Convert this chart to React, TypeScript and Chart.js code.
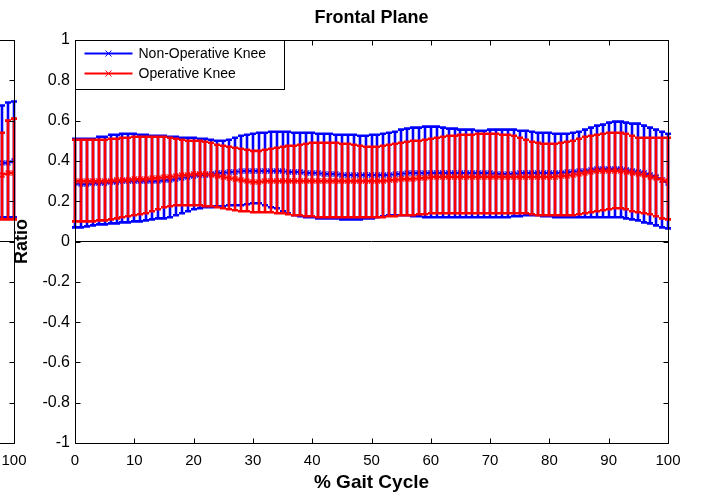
import React, { useEffect, useRef } from 'react';
import { Chart, registerables } from 'chart.js';

Chart.register(...registerables);

// ---------------- data ----------------
const GAIT_PCT: number[] = Array.from({ length: 101 }, (_, i) => i);

const NON_OP_MEAN = [
  0.29, 0.285, 0.285, 0.29, 0.29, 0.29,
  0.295, 0.295, 0.30, 0.30, 0.30,
  0.30, 0.30, 0.30, 0.30, 0.305, 0.305,
  0.31, 0.315, 0.32, 0.325, 0.33, 0.33, 0.335, 0.34,
  0.34, 0.345, 0.345,
  0.35, 0.35, 0.35, 0.35, 0.35, 0.35,
  0.35, 0.35, 0.345, 0.345, 0.345, 0.34, 0.34, 0.34, 0.335, 0.335, 0.335, 0.33, 0.33, 0.33, 0.33, 0.33,
  0.33, 0.33, 0.33, 0.33, 0.335,
  0.335, 0.34, 0.34, 0.34, 0.34, 0.34, 0.34, 0.34, 0.34,
  0.34, 0.34, 0.34, 0.34, 0.34, 0.34, 0.34, 0.335, 0.335, 0.335, 0.335, 0.34, 0.34,
  0.34, 0.34, 0.34, 0.34, 0.34, 0.34, 0.345, 0.345, 0.35,
  0.35, 0.355, 0.36, 0.36, 0.36, 0.36, 0.36, 0.355, 0.35, 0.345, 0.34, 0.33, 0.32, 0.305, 0.29,
];
const NON_OP_UPPER = [
  0.51, 0.51, 0.51, 0.51, 0.52, 0.52,
  0.53, 0.53, 0.535, 0.535, 0.535,
  0.53, 0.53, 0.525, 0.525, 0.525, 0.52,
  0.52, 0.515, 0.515, 0.515, 0.51, 0.51, 0.505, 0.50,
  0.50, 0.505, 0.515,
  0.525, 0.53, 0.535, 0.54, 0.54, 0.545,
  0.545, 0.545, 0.545, 0.54, 0.54, 0.54, 0.54, 0.535, 0.535, 0.535, 0.53, 0.53, 0.53, 0.53, 0.525, 0.525,
  0.53, 0.53, 0.535, 0.54, 0.545,
  0.555, 0.56, 0.565, 0.565, 0.57, 0.57, 0.57, 0.565, 0.56,
  0.56, 0.555, 0.555, 0.555, 0.55, 0.55, 0.555, 0.555, 0.555, 0.555, 0.555, 0.55, 0.55,
  0.545, 0.54, 0.54, 0.54, 0.535, 0.535, 0.535, 0.54, 0.545,
  0.555, 0.565, 0.575, 0.58, 0.59, 0.595, 0.595, 0.59, 0.585, 0.585, 0.575, 0.565, 0.555, 0.545, 0.535,
];
const NON_OP_LOWER = [
  0.07, 0.07, 0.075, 0.08, 0.085, 0.085,
  0.09, 0.09, 0.095, 0.095, 0.10,
  0.10, 0.105, 0.11, 0.115, 0.115, 0.12,
  0.13, 0.14, 0.15, 0.16, 0.165, 0.17, 0.17, 0.175,
  0.175, 0.18, 0.18,
  0.18, 0.185, 0.19, 0.19, 0.18, 0.17,
  0.165, 0.15, 0.14, 0.13, 0.125, 0.12, 0.12, 0.115, 0.115, 0.115, 0.115, 0.11, 0.11, 0.11, 0.11, 0.115,
  0.115, 0.12, 0.125, 0.13, 0.13,
  0.13, 0.13, 0.125, 0.125, 0.12, 0.12, 0.12, 0.12, 0.12,
  0.12, 0.12, 0.12, 0.12, 0.12, 0.12, 0.12, 0.12, 0.12, 0.12, 0.125, 0.125, 0.13,
  0.13, 0.13, 0.125, 0.125, 0.12, 0.12, 0.12, 0.12, 0.12,
  0.12, 0.12, 0.12, 0.12, 0.12, 0.12, 0.12, 0.115, 0.11, 0.105, 0.095, 0.09, 0.08, 0.07, 0.065,
];

const OP_MEAN = [
  0.30, 0.30, 0.30, 0.30, 0.30, 0.30,
  0.30, 0.305, 0.305, 0.305, 0.31,
  0.31, 0.31, 0.315, 0.315, 0.32, 0.32,
  0.325, 0.33, 0.33, 0.335, 0.335, 0.335, 0.33, 0.325,
  0.32, 0.315, 0.31,
  0.305, 0.30, 0.295, 0.295, 0.30, 0.30,
  0.30, 0.30, 0.30, 0.30, 0.30, 0.30, 0.30, 0.30, 0.30, 0.30, 0.30, 0.30, 0.30, 0.30, 0.30, 0.30,
  0.30, 0.30, 0.30, 0.305, 0.305,
  0.31, 0.31, 0.31, 0.315, 0.315, 0.32, 0.32, 0.32, 0.32,
  0.32, 0.32, 0.32, 0.32, 0.32, 0.32, 0.32, 0.32, 0.32, 0.32, 0.32, 0.32, 0.32,
  0.32, 0.32, 0.32, 0.32, 0.32, 0.325, 0.325, 0.33, 0.335,
  0.34, 0.345, 0.35, 0.35, 0.35, 0.35, 0.35, 0.345, 0.34, 0.335, 0.33, 0.32, 0.315, 0.305, 0.30,
];
const OP_UPPER = [
  0.505, 0.505, 0.505, 0.505, 0.505, 0.505,
  0.51, 0.51, 0.515, 0.515, 0.52,
  0.52, 0.52, 0.52, 0.52, 0.52, 0.515,
  0.51, 0.505, 0.50, 0.50, 0.50, 0.495, 0.49, 0.48,
  0.475, 0.47, 0.465,
  0.46, 0.455, 0.45, 0.45, 0.455, 0.46,
  0.465, 0.47, 0.475, 0.475, 0.48, 0.485, 0.49, 0.49, 0.49, 0.49, 0.49, 0.485, 0.485, 0.48, 0.475, 0.47,
  0.47, 0.47, 0.475, 0.48, 0.485,
  0.49, 0.495, 0.50, 0.50, 0.505, 0.51, 0.515, 0.52, 0.525,
  0.525, 0.53, 0.53, 0.53, 0.535, 0.535, 0.535, 0.535, 0.53, 0.53, 0.525, 0.515, 0.505,
  0.495, 0.49, 0.485, 0.485, 0.485, 0.49, 0.495, 0.50, 0.51,
  0.52, 0.525, 0.53, 0.535, 0.54, 0.54, 0.54, 0.535, 0.525, 0.515, 0.515, 0.515, 0.515, 0.515, 0.515,
];
const OP_LOWER = [
  0.10, 0.10, 0.10, 0.10, 0.105, 0.105,
  0.11, 0.115, 0.12, 0.125, 0.13,
  0.135, 0.14, 0.15, 0.16, 0.17, 0.175,
  0.18, 0.18, 0.18, 0.18, 0.18, 0.175, 0.175, 0.17,
  0.165, 0.16, 0.155,
  0.15, 0.15, 0.145, 0.145, 0.145, 0.145,
  0.14, 0.14, 0.135, 0.13, 0.13, 0.125, 0.125, 0.12, 0.12, 0.12, 0.12, 0.12, 0.12, 0.12, 0.12, 0.12,
  0.12, 0.12, 0.12, 0.125, 0.125,
  0.13, 0.13, 0.13, 0.135, 0.135, 0.14, 0.14, 0.14, 0.14,
  0.14, 0.14, 0.14, 0.14, 0.14, 0.14, 0.14, 0.14, 0.14, 0.14, 0.14, 0.14, 0.14,
  0.135, 0.13, 0.13, 0.13, 0.13, 0.13, 0.13, 0.13, 0.135,
  0.14, 0.145, 0.15, 0.155, 0.16, 0.165, 0.165, 0.16, 0.15, 0.145, 0.14, 0.135, 0.125, 0.115, 0.11,
];

// neighbouring (cut-off) panel on the left: only its last points are visible
const LEFT_PCT = [98, 99, 100];
const LEFT_NON_OP_MEAN = [0.39, 0.39, 0.40];
const LEFT_NON_OP_UPPER = [0.675, 0.69, 0.695];
const LEFT_NON_OP_LOWER = [0.12, 0.12, 0.12];
const LEFT_OP_MEAN = [0.33, 0.34, 0.34];
const LEFT_OP_UPPER = [0.54, 0.60, 0.61];
const LEFT_OP_LOWER = [0.11, 0.11, 0.11];

const TITLE = 'Frontal Plane';
const X_TITLE = '% Gait Cycle';
const Y_TITLE = 'Ratio';
const NON_OP_LABEL = 'Non-Operative Knee';
const OP_LABEL = 'Operative Knee';

// ---------------- styling ----------------
const FONT = "'Liberation Sans', Arial, Helvetica, sans-serif";
const BLUE = '#0000ff';
const RED = '#ff0000';
const CAP = 3;
const TICK_LEN = 5;

Chart.defaults.font.family = FONT;
Chart.defaults.color = '#000';

const errorBarPlugin = {
  id: 'errorBars',
  beforeDatasetDraw(chart: any, args: any) {
    const ds = chart.data.datasets[args.index];
    if (!ds.errLower) return;
    const xs = chart.scales.x;
    const ys = chart.scales.y;
    const ctx = chart.ctx;
    ctx.save();
    ctx.strokeStyle = ds.borderColor;
    ctx.lineWidth = 2.6;
    ctx.beginPath();
    ds.data.forEach((p: any, i: number) => {
      const px = Math.round(xs.getPixelForValue(p.x));
      const lo = ys.getPixelForValue(ds.errLower[i]);
      const hi = ys.getPixelForValue(ds.errUpper[i]);
      ctx.moveTo(px, lo);
      ctx.lineTo(px, hi);
      ctx.moveTo(px - CAP, lo);
      ctx.lineTo(px + CAP, lo);
      ctx.moveTo(px - CAP, hi);
      ctx.lineTo(px + CAP, hi);
    });
    ctx.stroke();
    ctx.restore();
  },
};

const framePlugin = {
  id: 'matlabFrame',
  afterDraw(chart: any, _args: any, opts: any) {
    const ctx = chart.ctx;
    const a = chart.chartArea;
    const xs = chart.scales.x;
    const ys = chart.scales.y;
    ctx.save();
    ctx.strokeStyle = '#000';
    ctx.lineWidth = 1;
    const L = Math.round(a.left) + 0.5;
    const R = Math.round(a.right) + 0.5;
    const T = Math.round(a.top) + 0.5;
    const B = Math.round(a.bottom) + 0.5;
    ctx.beginPath();
    ctx.rect(L, T, R - L, B - T);
    xs.ticks.forEach((t: any) => {
      const px = Math.round(xs.getPixelForValue(t.value)) + 0.5;
      ctx.moveTo(px, B);
      ctx.lineTo(px, B - TICK_LEN);
      ctx.moveTo(px, T);
      ctx.lineTo(px, T + TICK_LEN);
    });
    ys.ticks.forEach((t: any) => {
      const py = Math.round(ys.getPixelForValue(t.value)) + 0.5;
      ctx.moveTo(L, py);
      ctx.lineTo(L + TICK_LEN, py);
      ctx.moveTo(R, py);
      ctx.lineTo(R - TICK_LEN, py);
    });
    ctx.stroke();

    if (opts && opts.title) {
      ctx.fillStyle = '#000';
      ctx.font = `bold 18px ${FONT}`;
      ctx.textAlign = 'center';
      ctx.textBaseline = 'middle';
      ctx.fillText(opts.title, (a.left + a.right) / 2, 18);
    }

    if (opts && opts.legend) {
      const x0 = Math.round(a.left) + 0.5;
      const y0 = Math.round(a.top) + 0.5;
      const w = 209;
      const h = 49;
      ctx.fillStyle = '#fff';
      ctx.fillRect(x0, y0, w, h);
      ctx.strokeStyle = '#000';
      ctx.lineWidth = 1;
      ctx.strokeRect(x0, y0, w, h);
      const items = chart.data.datasets.filter((d: any) => d.errLower);
      items.forEach((d: any, i: number) => {
        const y = y0 + 13 + i * 20;
        ctx.strokeStyle = d.borderColor;
        ctx.lineWidth = 2;
        ctx.beginPath();
        ctx.moveTo(x0 + 9, y);
        ctx.lineTo(x0 + 57, y);
        ctx.stroke();
        ctx.lineWidth = 1;
        ctx.beginPath();
        const mx = x0 + 33;
        ctx.moveTo(mx - 3, y - 3);
        ctx.lineTo(mx + 3, y + 3);
        ctx.moveTo(mx - 3, y + 3);
        ctx.lineTo(mx + 3, y - 3);
        ctx.stroke();
        ctx.fillStyle = '#000';
        ctx.font = `14px ${FONT}`;
        ctx.textAlign = 'left';
        ctx.textBaseline = 'middle';
        ctx.fillText(d.label, x0 + 63, y + 1);
      });
    }
    ctx.restore();
  },
};

type Series = {
  label: string;
  color: string;
  x: number[];
  mean: number[];
  lower: number[];
  upper: number[];
};

function buildConfig(series: Series[], opts: { title?: string; legend?: boolean }) {
  const datasets: any[] = series.map((s, i) => ({
    label: s.label,
    data: s.x.map((x, j) => ({ x, y: s.mean[j] })),
    borderColor: s.color,
    backgroundColor: s.color,
    borderWidth: 2.2,
    pointStyle: 'crossRot',
    pointRadius: 3.5,
    pointBorderWidth: 1.3,
    pointBorderColor: s.color,
    tension: 0,
    errLower: s.lower,
    errUpper: s.upper,
    order: series.length - i,
  }));
  datasets.push({
    label: 'zero',
    data: [
      { x: 0, y: 0 },
      { x: 100, y: 0 },
    ],
    borderColor: '#000',
    borderWidth: 1,
    pointRadius: 0,
    order: 10,
  });
  return {
    type: 'line' as const,
    data: { datasets },
    plugins: [errorBarPlugin, framePlugin],
    options: {
      animation: false,
      responsive: false,
      events: [],
      layout: { padding: { top: 40, right: 33, left: 0, bottom: 0 } },
      plugins: {
        legend: { display: false },
        tooltip: { enabled: false },
        title: { display: false },
        matlabFrame: { title: opts.title, legend: opts.legend },
      },
      scales: {
        x: {
          type: 'linear',
          min: 0,
          max: 100,
          grid: { display: false, drawTicks: false },
          border: { display: false },
          afterFit: (s: any) => {
            s.height = 57;
          },
          ticks: {
            stepSize: 10,
            autoSkip: false,
            maxRotation: 0,
            padding: 9,
            font: { size: 15 },
            color: '#000',
          },
          title: {
            display: true,
            text: X_TITLE,
            font: { size: 19, weight: 'bold' },
            padding: { top: 0, bottom: 6 },
            color: '#000',
          },
        },
        y: {
          type: 'linear',
          min: -1,
          max: 1,
          grid: { display: false, drawTicks: false },
          border: { display: false },
          afterFit: (s: any) => {
            s.width = 75;
          },
          ticks: {
            stepSize: 0.2,
            autoSkip: false,
            padding: 5,
            font: { size: 16 },
            color: '#000',
            callback: (v: any) => String(Math.round(Number(v) * 10) / 10),
          },
          title: {
            display: true,
            text: Y_TITLE,
            font: { size: 18, weight: 'bold' },
            padding: { top: 11, bottom: 0 },
            color: '#000',
          },
        },
      },
    },
  };
}

function ChartCanvas({ left, series, opts }: { left: number; series: Series[]; opts: any }) {
  const ref = useRef<HTMLCanvasElement | null>(null);
  useEffect(() => {
    if (!ref.current) return;
    const chart = new Chart(ref.current, buildConfig(series, opts) as any);
    return () => chart.destroy();
  }, []);
  return (
    <canvas
      ref={ref}
      width={701}
      height={500}
      style={{ position: 'absolute', left, top: 0, width: 701, height: 500, display: 'block' }}
    />
  );
}

const MAIN_SERIES: Series[] = [
  { label: NON_OP_LABEL, color: BLUE, x: GAIT_PCT, mean: NON_OP_MEAN, lower: NON_OP_LOWER, upper: NON_OP_UPPER },
  { label: OP_LABEL, color: RED, x: GAIT_PCT, mean: OP_MEAN, lower: OP_LOWER, upper: OP_UPPER },
];

const LEFT_SERIES: Series[] = [
  { label: NON_OP_LABEL, color: BLUE, x: LEFT_PCT, mean: LEFT_NON_OP_MEAN, lower: LEFT_NON_OP_LOWER, upper: LEFT_NON_OP_UPPER },
  { label: OP_LABEL, color: RED, x: LEFT_PCT, mean: LEFT_OP_MEAN, lower: LEFT_OP_LOWER, upper: LEFT_OP_UPPER },
];

export default function App() {
  return (
    <div
      style={{
        position: 'absolute',
        left: 0,
        top: 0,
        width: 701,
        height: 500,
        overflow: 'hidden',
        background: '#fff',
      }}
    >
      <ChartCanvas left={-654} series={LEFT_SERIES} opts={{}} />
      <ChartCanvas left={0} series={MAIN_SERIES} opts={{ title: TITLE, legend: true }} />
    </div>
  );
}
